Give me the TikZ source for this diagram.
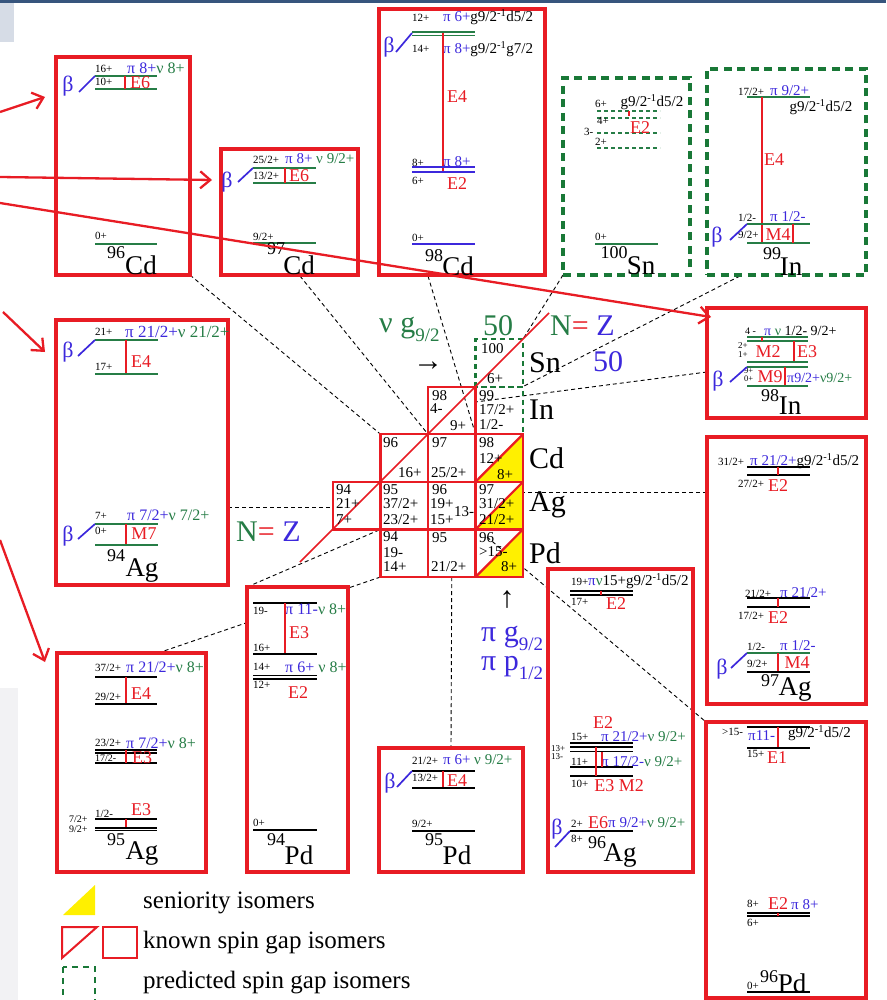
\documentclass[tikz,border=0pt]{standalone}
\usepackage{fontspec}
\setmainfont{Liberation Serif}
\usetikzlibrary{arrows.meta}
\pgfdeclarelayer{bg}
\pgfsetlayers{bg,main}
\definecolor{myred}{RGB}{232,28,36}
\definecolor{mygreen}{RGB}{38,125,70}
\definecolor{myblue}{RGB}{60,40,220}
\definecolor{dgreen}{RGB}{25,120,55}
\definecolor{myyellow}{RGB}{255,240,0}
\definecolor{panelgrey}{RGB}{242,242,244}
\definecolor{tlgrey}{RGB}{214,220,230}
\definecolor{topblue}{RGB}{55,85,125}
\newcommand{\fsz}[1]{\fontsize{#1}{#1}\selectfont}
\newcommand{\gdd}{g9/2\textsuperscript{-1}d5/2}
\newcommand{\gdg}{g9/2\textsuperscript{-1}g7/2}
\newcommand{\Pb}[1]{\textcolor{myblue}{#1}}
\newcommand{\Ng}[1]{\textcolor{mygreen}{#1}}
\newcommand{\subs}[1]{\raisebox{-0.3em}{\fsz{19}#1}}
\tikzset{
 nbox/.style={draw=myred, line width=3.1pt, anchor=north west, inner sep=0pt, outer sep=0pt},
 pbox/.style={draw=dgreen, line width=3.1pt, dash pattern=on 8pt off 5.5pt, anchor=north west, inner sep=0pt, outer sep=0pt},
 cellpos/.style={minimum width=47.5pt, minimum height=47.6pt, inner sep=0pt, outer sep=0pt, anchor=north west},
 cellred/.style={draw=myred, line width=2.2pt},
 cellgrn/.style={draw=dgreen, line width=2.2pt, dash pattern=on 5pt off 4pt},
 glev/.style={draw=mygreen, line width=1.9pt},
 blev/.style={draw=myblue, line width=1.9pt},
 klev/.style={draw=black, line width=1.7pt},
 gdlev/.style={draw=mygreen, line width=1.2pt, dash pattern=on 4pt off 3pt},
 trans/.style={draw=myred, line width=1.4pt},
 betal/.style={draw=myblue, line width=1.7pt},
 spn/.style={inner sep=0pt, anchor=west, font=\fsz{11}},
 cfg/.style={inner sep=0pt, anchor=west, font=\fsz{15}},
 trl/.style={inner sep=0pt, font=\fsz{18}, text=myred},
 bet/.style={inner sep=0pt, font=\fsz{22}, text=myblue},
 mss/.style={inner sep=0pt, font=\fsz{18}},
 elm/.style={inner sep=0pt, font=\fsz{27}},
 celt/.style={inner sep=0pt, anchor=west, font=\fsz{15}},
 chel/.style={inner sep=0pt, anchor=west, font=\fsz{30}},
 bigl/.style={inner sep=0pt, font=\fsz{30}},
 conn/.style={draw=black, line width=0.9pt, dash pattern=on 4pt off 3pt},
 redarr/.style={draw=myred, line width=2.3pt, -{Straight Barb[length=10pt, width=17pt]}},
 legt/.style={inner sep=0pt, anchor=west, font=\fsz{25}},
}
\begin{document}
\begin{tikzpicture}[x=1pt,y=-1pt]
\useasboundingbox (0,0) rectangle (886,1000);
\begin{pgfonlayer}{bg}
\fill[white] (0,0) rectangle (886,1000);
\fill[panelgrey] (0,688) rectangle (18,1000);
\fill[tlgrey] (0,0) rectangle (14,42);
\fill[topblue] (0,0) rectangle (886,3);
\end{pgfonlayer}

% ---------- level-scheme boxes ----------
\node[nbox, minimum width=134, minimum height=218] (bCdA) at (56,57) {};
\node[nbox, minimum width=137, minimum height=126] (bCdB) at (221,149) {};
\node[nbox, minimum width=166, minimum height=266] (bCdC) at (379,9) {};
\node[pbox, minimum width=127, minimum height=197] (bSn) at (563,78) {};
\node[pbox, minimum width=159, minimum height=206] (bInA) at (707,69) {};
\node[nbox, minimum width=172, minimum height=265] (bAgA) at (56,320) {};
\node[nbox, minimum width=159, minimum height=110] (bInB) at (707,308) {};
\node[nbox, minimum width=159, minimum height=267] (bAgC) at (707,437) {};
\node[nbox, minimum width=149, minimum height=219] (bAgB) at (57,653) {};
\node[nbox, fill=white, minimum width=101, minimum height=285] (bPdA) at (247,587) {};
\node[nbox, minimum width=144, minimum height=124] (bPdB) at (379,748) {};
\node[nbox, minimum width=145, minimum height=303] (bAgD) at (548,569) {};
\node[nbox, minimum width=160, minimum height=276] (bPdC) at (706,722) {};

% ---------- chart cells ----------
\node[cellpos] (cSn100) at (475.5,339) {};
\node[cellpos] (cIn98) at (428,386.6) {};
\node[cellpos] (cIn99) at (475.5,386.6) {};
\node[cellpos] (cCd96) at (380.5,434.2) {};
\node[cellpos] (cCd97) at (428,434.2) {};
\node[cellpos] (cCd98) at (475.5,434.2) {};
\node[cellpos] (cAg94) at (333,481.8) {};
\node[cellpos] (cAg95) at (380.5,481.8) {};
\node[cellpos] (cAg96) at (428,481.8) {};
\node[cellpos] (cAg97) at (475.5,481.8) {};
\node[cellpos] (cPd94) at (380.5,529.4) {};
\node[cellpos] (cPd95) at (428,529.4) {};
\node[cellpos] (cPd96) at (475.5,529.4) {};
\foreach \c in {cCd98,cAg97,cPd96}{
  \fill[myyellow] (\c.south west) -- (\c.south east) -- (\c.north east) -- cycle;
}
\foreach \c in {cSn100,cIn99}{
  \draw[cellgrn] (\c.south west) rectangle (\c.north east);
}
\foreach \c in {cIn98,cCd96,cCd97,cCd98,cAg94,cAg95,cAg96,cAg97,cPd94,cPd95,cPd96}{
  \draw[cellred] (\c.south west) rectangle (\c.north east);
}
\foreach \c in {cCd98,cAg97,cPd96}{
  \draw[cellred] (\c.south west) -- (\c.north east);
}
\coordinate (nzLow) at (300,562);
\coordinate (nzHigh) at (549,313);
\draw[myred, line width=1.6pt] (nzLow) -- (nzHigh);

% ---------- dashed connectors (behind) ----------
\coordinate (kCd97) at (300,276);
\coordinate (kCd98) at (428,276);
\coordinate (kIn99) at (740,276);
\coordinate (kIn98) at (707,372);
\coordinate (eIn98) at (475.5,402);
\coordinate (kAg97) at (707,492);
\coordinate (eAg97) at (523,492);
\coordinate (kAg94) at (228,507);
\coordinate (eAg94) at (333,507);
\coordinate (kAg95) at (158,653);
\coordinate (sPd96) at (487,537);
\begin{pgfonlayer}{bg}
\draw[conn] (bCdA.south east) -- (cCd96.north west);
\draw[conn] (kCd97) -- (cCd97.north west);
\draw[conn] (kCd98) -- (cCd98.north west);
\draw[conn] (bSn.south west) -- (cSn100.north east);
\draw[conn] (kIn99) -- (cIn99.north east);
\draw[conn] (kIn98) -- (eIn98);
\draw[conn] (kAg97) -- (eAg97);
\draw[conn] (kAg94) -- (eAg94);
\draw[conn] (kAg95) -- (cPd94.south west);
\draw[conn] (bPdA.north west) -- (cAg95.south west);
\draw[conn] (cPd95.south) -- (bPdB.north);
\draw[conn] (sPd96) -- (bPdC.north west);
\end{pgfonlayer}

% ---------- chart texts ----------
\node[celt] (p1) at (481,349) {100};
\node[celt] (p2) at (487,379) {6+};
\node[celt] (p3) at (432,396) {98};
\node[celt] (p4) at (430,409) {4-};
\node[celt] (p5) at (450,426) {9+};
\node[celt] (p6) at (479,396) {99};
\node[celt] (p7) at (479,410) {17/2+};
\node[celt] (p8) at (479,425) {1/2-};
\node[celt] (p9) at (383,443) {96};
\node[celt] (p10) at (398,473) {16+};
\node[celt] (p11) at (432,443) {97};
\node[celt] (p12) at (431,473) {25/2+};
\node[celt] (p13) at (479,443) {98};
\node[celt] (p14) at (479,459) {12+};
\node[celt] (p15) at (497,475) {8+};
\node[celt] (p16) at (336,490) {94};
\node[celt] (p17) at (336,504) {21+};
\node[celt] (p18) at (336,520) {7+};
\node[celt] (p19) at (383,490) {95};
\node[celt] (p20) at (383,504) {37/2+};
\node[celt] (p21) at (383,520) {23/2+};
\node[celt] (p22) at (432,490) {96};
\node[celt] (p23) at (430,504) {19+};
\node[celt] (p24) at (430,520) {15+};
\node[celt] (p25) at (454,512) {13-};
\node[celt] (p26) at (479,490) {97};
\node[celt] (p27) at (479,504) {31/2+};
\node[celt] (p28) at (479,520) {21/2+};
\node[celt] (p29) at (383,537) {94};
\node[celt] (p30) at (383,552.5) {19-};
\node[celt] (p31) at (383,567) {14+};
\node[celt] (p32) at (432,538) {95};
\node[celt] (p33) at (431,567) {21/2+};
\node[celt] (p34) at (479,538) {96};
\node[celt] (p35) at (479,552) {>15-};
\node[celt] (p36) at (501,567) {8+};
\node[chel] (q1) at (529,363) {Sn};
\node[chel] (q2) at (529,410) {In};
\node[chel] (q3) at (529,458) {Cd};
\node[chel] (q4) at (529,505) {Ag};
\node[chel] (q5) at (529,553) {Pd};
\node[bigl, text=mygreen] (r1) at (498,326) {50};
\node[bigl, anchor=west] (r2) at (550,326) {\Ng{N}\textcolor{myred}{=} \textcolor{myblue}{Z}};
\node[bigl, text=myblue] (r3) at (608,362) {50};
\node[bigl, anchor=west, text=mygreen] (r4) at (379,329) {ν g\subs{9/2}};
\node[bigl] (r5) at (428,366) {→};
\node[bigl] (r6) at (507,600) {↑};
\node[bigl, anchor=west, text=myblue] (r7) at (481,638) {π g\subs{9/2}};
\node[bigl, anchor=west, text=myblue] (r8) at (481,668) {π p\subs{1/2}};
\node[bigl, anchor=west] (r9) at (236,532) {\Ng{N}\textcolor{myred}{=} \textcolor{myblue}{Z}};

% ---------- 96Cd ----------
\node[spn] (a1) at (95,69) {16+};
\node[cfg, font=\fsz{16}] (a2) at (127,68) {\Pb{π 8+}\Ng{ν 8+}};
\draw[glev] (95,76) -- (157,76);
\draw[glev] (95,89) -- (157,89);
\node[spn] (a3) at (95,82) {10+};
\draw[trans] (125,76) -- (125,89);
\node[trl] (a4) at (140,83) {E6};
\node[bet] (a5) at (68,86) {β};
\draw[betal] (79,92) -- (95,76);
\node[spn] (a6) at (95,236) {0+};
\draw[glev] (95,244) -- (157,244);
\node[mss] (a7) at (116,253) {96};
\node[elm] (a8) at (141,265) {Cd};

% ---------- 97Cd ----------
\node[spn] (b1) at (253,160) {25/2+};
\node[cfg] (b2) at (285,159) {\Pb{π 8+} \Ng{ν 9/2+}};
\draw[glev] (253,168) -- (316,168);
\draw[glev] (253,183) -- (316,183);
\node[spn] (b3) at (253,176) {13/2+};
\draw[trans] (285,168) -- (285,183);
\node[trl] (b4) at (299,176) {E6};
\node[bet] (b5) at (227,182) {β};
\draw[betal] (238,182) -- (253,168);
\node[spn] (b6) at (253,237) {9/2+};
\draw[glev] (253,243) -- (316,243);
\node[mss] (b7) at (276,249) {97};
\node[elm] (b8) at (299,265) {Cd};

% ---------- 98Cd ----------
\node[spn] (c1) at (412,18) {12+};
\node[cfg] (c2) at (443,17) {\Pb{π 6+}\gdd};
\draw[glev] (412,32) -- (475,32);
\draw[glev] (412,35.5) -- (475,35.5);
\node[bet] (c3) at (389,47) {β};
\draw[betal] (396,52) -- (412,33);
\node[spn] (c4) at (412,49) {14+};
\node[cfg] (c5) at (443,49) {\Pb{π 8+}\gdg};
\draw[trans] (443,33) -- (443,172);
\node[trl] (c6) at (457,97) {E4};
\node[spn] (c7) at (412,163) {8+};
\node[cfg] (c8) at (443,162) {\Pb{π 8+}};
\draw[blev] (412,167) -- (475,167);
\draw[blev] (412,172) -- (475,172);
\node[spn] (c9) at (412,181) {6+};
\node[trl] (c10) at (457,184) {E2};
\node[spn] (c11) at (412,238) {0+};
\draw[blev] (412,244) -- (475,244);
\node[mss] (c12) at (434,256) {98};
\node[elm] (c13) at (458,266) {Cd};

% ---------- 100Sn ----------
\node[spn] (d1) at (595,104) {6+};
\node[cfg, anchor=center] (d2) at (652,102) {\gdd};
\draw[gdlev] (597,111) -- (660,111);
\draw[gdlev] (597,118) -- (660,118);
\draw[gdlev] (597,133) -- (660,133);
\draw[gdlev] (597,148) -- (660,148);
\node[spn] (d3) at (597,121) {4+};
\node[spn] (d4) at (584,132) {3-};
\node[spn] (d5) at (595,142) {2+};
\draw[trans] (629,111) -- (629,116);
\node[trl] (d6) at (640,128) {E2};
\node[spn] (d7) at (595,237) {0+};
\draw[glev] (595,244) -- (658,244);
\node[mss] (d8) at (614,253) {100};
\node[elm] (d9) at (641,266) {Sn};

% ---------- 99In ----------
\node[spn] (e1) at (738,92) {17/2+};
\node[cfg] (e2) at (770,91) {\Pb{π 9/2+}};
\draw[glev] (747,97) -- (810,97);
\node[cfg, anchor=center] (e3) at (821,107) {\gdd};
\draw[trans] (762,97) -- (762,243);
\node[trl] (e4) at (774,160) {E4};
\node[spn] (e5) at (738,218) {1/2-};
\node[cfg] (e6) at (770,217) {\Pb{π 1/2-}};
\draw[glev] (747,224) -- (810,224);
\draw[glev] (747,243) -- (810,243);
\node[spn] (e7) at (738,235) {9/2+};
\node[trl] (e8) at (778,234.5) {M4};
\draw[trans] (793,224) -- (793,243);
\node[bet] (e9) at (717,237) {β};
\draw[betal] (730,240) -- (747,224);
\node[mss] (e10) at (772,254) {99};
\node[elm] (e11) at (791,267) {In};

% ---------- 94Ag ----------
\node[spn] (f1) at (95,332) {21+};
\node[cfg, font=\fsz{17}] (f2) at (125,332) {\Pb{π 21/2+}\Ng{ν 21/2+}};
\draw[glev] (95,340) -- (158,340);
\node[bet] (f3) at (68,352) {β};
\draw[betal] (78,356) -- (95,340);
\draw[trans] (126,340) -- (126,374);
\node[trl] (f4) at (141,362) {E4};
\node[spn] (f5) at (95,367) {17+};
\draw[glev] (95,374) -- (158,374);
\node[spn] (f6) at (95,516) {7+};
\node[cfg, font=\fsz{16}] (f7) at (127,515) {\Pb{π 7/2+}\Ng{ν 7/2+}};
\draw[glev] (95,524) -- (158,524);
\node[bet] (f8) at (68,536) {β};
\draw[betal] (78,539) -- (95,524);
\node[spn] (f9) at (95,531) {0+};
\draw[trans] (126,524) -- (126,545);
\node[trl] (f10) at (144,534) {M7};
\draw[glev] (95,545) -- (158,545);
\node[mss] (f11) at (116,556) {94};
\node[elm] (f12) at (142,570) {Ag};

% ---------- 98In ----------
\node[spn, font=\fsz{10}] (g1) at (745,331) {4 -};
\node[cfg, font=\fsz{14}] (g2) at (764,331) {\Pb{π} \Ng{ν} 1/2- 9/2+};
\draw[glev] (747,337) -- (808,337);
\draw[glev] (747,341) -- (808,341);
\draw[trans] (762,337) -- (762,341);
\node[spn, font=\fsz{9}] (g3) at (738,346) {2+};
\node[spn, font=\fsz{9}] (g4) at (738,355) {1+};
\node[trl] (g5) at (768,352) {M2};
\draw[trans] (794,341) -- (794,362);
\node[trl] (g6) at (807,352) {E3};
\draw[glev] (747,362) -- (808,362);
\draw[glev] (747,367) -- (808,367);
\node[spn, font=\fsz{8.5}] (g7) at (744,371) {9+};
\node[spn, font=\fsz{8.5}] (g8) at (744,379) {0+};
\node[trl] (g9) at (770,377) {M9};
\draw[trans] (785,367) -- (785,386);
\node[cfg, font=\fsz{14}] (g10) at (787,378) {\Pb{π9/2+}\Ng{ν9/2+}};
\draw[glev] (747,386) -- (808,386);
\node[bet] (g11) at (718,381) {β};
\draw[betal] (730,382) -- (747,367);
\node[mss] (g12) at (770,396) {98};
\node[elm] (g13) at (790,406) {In};

% ---------- 97Ag ----------
\node[spn] (h1) at (718,462) {31/2+};
\node[cfg] (h2) at (750,461) {\Pb{π 21/2+}\gdd};
\draw[klev] (747,467) -- (810,467);
\draw[klev] (747,475) -- (810,475);
\draw[trans] (778,467) -- (778,475);
\node[spn] (h3) at (738,484) {27/2+};
\node[trl] (h4) at (778,486) {E2};
\node[spn] (h5) at (745,594) {21/2+};
\node[cfg] (h6) at (780,593) {\Pb{π 21/2+}};
\draw[klev] (747,598) -- (810,598);
\draw[klev] (747,607) -- (810,607);
\draw[trans] (778,598) -- (778,607);
\node[spn] (h7) at (738,616) {17/2+};
\node[trl] (h8) at (778,618) {E2};
\node[spn] (h9) at (747,647) {1/2-};
\node[cfg] (h10) at (780,646) {\Pb{π 1/2-}};
\draw[glev] (747,653) -- (810,653);
\node[spn] (h11) at (747,664) {9/2+};
\draw[trans] (778,653) -- (778,672);
\node[trl] (h12) at (797,663) {M4};
\draw[klev] (747,672) -- (810,672);
\node[bet] (h13) at (722,669) {β};
\draw[betal] (731,668) -- (747,653);
\node[mss] (h14) at (770,681) {97};
\node[elm] (h15) at (795,689) {Ag};

% ---------- 95Ag ----------
\node[spn] (i1) at (95,668) {37/2+};
\node[cfg, font=\fsz{16}] (i2) at (126,667) {\Pb{π 21/2+}\Ng{ν 8+}};
\draw[klev] (95,677) -- (157,677);
\draw[trans] (126,677) -- (126,704);
\node[trl] (i3) at (141,694) {E4};
\node[spn] (i4) at (95,697) {29/2+};
\draw[klev] (95,704) -- (157,704);
\node[spn] (i5) at (95,743) {23/2+};
\node[cfg, font=\fsz{16}] (i6) at (126,743) {\Pb{π 7/2+}\Ng{ν 8+}};
\draw[klev] (95,750) -- (157,750);
\draw[klev] (95,753) -- (157,753);
\node[spn, font=\fsz{10}] (i7) at (95,758) {17/2-};
\draw[klev] (95,763) -- (157,763);
\draw[trans] (126,750) -- (126,763);
\node[trl] (i8) at (142,758) {E3};
\node[trl] (i9) at (141,810) {E3};
\node[spn] (i10) at (95,814) {1/2-};
\draw[klev] (95,819) -- (157,819);
\node[spn, font=\fsz{10}] (i11) at (69,819) {7/2+};
\draw[trans] (126,819) -- (126,829);
\draw[klev] (95,828) -- (157,828);
\draw[klev] (95,830.5) -- (157,830.5);
\node[spn, font=\fsz{10}] (i12) at (69,829) {9/2+};
\node[mss] (i13) at (116,840) {95};
\node[elm] (i14) at (142,853) {Ag};

% ---------- 94Pd ----------
\draw[klev] (253,603) -- (317,603);
\node[spn] (j1) at (253,611) {19-};
\node[cfg, font=\fsz{16}] (j2) at (285,609) {\Pb{π 11-}\Ng{ν 8+}};
\draw[trans] (285,603) -- (285,654);
\node[trl] (j3) at (299,633) {E3};
\node[spn] (j4) at (253,648) {16+};
\draw[klev] (253,654) -- (317,654);
\node[spn] (j5) at (253,667) {14+};
\node[cfg, font=\fsz{16}] (j6) at (285,667) {\Pb{π 6+} \Ng{ν 8+}};
\draw[klev] (253,675.5) -- (317,675.5);
\draw[klev] (253,679) -- (317,679);
\node[spn] (j7) at (253,685) {12+};
\node[trl] (j8) at (298,693) {E2};
\node[spn] (j9) at (253,823) {0+};
\draw[klev] (253,830) -- (317,830);
\node[mss] (j10) at (276,840) {94};
\node[elm] (j11) at (299,855) {Pd};

% ---------- 95Pd ----------
\node[spn] (k1) at (412,761) {21/2+};
\node[cfg] (k2) at (443,760) {\Pb{π 6+} \Ng{ν 9/2+}};
\draw[klev] (412,771) -- (475,771);
\node[bet] (k3) at (390,783) {β};
\draw[betal] (397,787) -- (412,771);
\node[spn] (k4) at (412,778) {13/2+};
\draw[trans] (443,771) -- (443,788);
\node[trl] (k5) at (457,781) {E4};
\draw[klev] (412,788) -- (475,788);
\node[spn] (k6) at (412,824) {9/2+};
\draw[klev] (412,831) -- (475,831);
\node[mss] (k7) at (434,840) {95};
\node[elm] (k8) at (457,855) {Pd};

% ---------- 96Ag ----------
\node[spn] (m1) at (571,582) {19+};
\node[cfg] (m2) at (588,581) {\Pb{π}\Ng{ν}15+\gdd};
\draw[klev] (570,591) -- (633,591);
\draw[klev] (570,595) -- (633,595);
\draw[trans] (601,591) -- (601,595);
\node[spn] (m3) at (571,602) {17+};
\node[trl] (m4) at (616,604) {E2};
\node[trl] (m5) at (603,723) {E2};
\node[spn] (m6) at (571,737) {15+};
\node[cfg] (m7) at (601,737) {\Pb{π 21/2+}\Ng{ν 9/2+}};
\draw[klev] (570,743) -- (633,743);
\draw[klev] (570,747) -- (633,747);
\draw[klev] (570,751.5) -- (633,751.5);
\node[spn, font=\fsz{9}] (m8) at (551,749) {13+};
\node[spn, font=\fsz{9}] (m9) at (551,757) {13-};
\node[spn] (m10) at (571,762) {11+};
\node[cfg] (m11) at (601,762) {\Pb{π 17/2-}\Ng{ν 9/2+}};
\draw[klev] (570,767) -- (633,767);
\draw[klev] (570,776) -- (633,776);
\draw[trans] (596,747) -- (596,776);
\draw[trans] (602,752) -- (602,767);
\node[spn] (m12) at (571,784) {10+};
\node[trl] (m13) at (619,786) {E3 M2};
\node[bet] (m14) at (557,829) {β};
\draw[betal] (555,847) -- (570,831);
\node[spn] (m15) at (571,824) {2+};
\node[trl] (m16) at (598,823) {E6};
\node[cfg] (m17) at (608,823) {\Pb{π 9/2+}\Ng{ν 9/2+}};
\draw[klev] (570,831) -- (633,831);
\node[spn] (m18) at (571,839) {8+};
\node[mss] (m19) at (597,843) {96};
\node[elm] (m20) at (620,855) {Ag};

% ---------- 96Pd ----------
\draw[klev] (747,727) -- (810,727);
\node[spn] (n1) at (722,732) {>15-};
\node[cfg] (n2) at (748,736) {\Pb{π11-}};
\node[cfg] (n3) at (788,733) {\gdd};
\draw[trans] (778,727) -- (778,748);
\draw[klev] (747,748) -- (810,748);
\node[spn] (n4) at (747,754) {15+};
\node[trl] (n5) at (777,758) {E1};
\node[spn] (n6) at (747,904) {8+};
\node[trl] (n7) at (778,904) {E2};
\node[cfg] (n8) at (791,905) {\Pb{π 8+}};
\draw[klev] (747,913) -- (810,913);
\draw[klev] (747,916) -- (810,916);
\draw[trans] (778,913) -- (778,916);
\node[spn] (n9) at (747,923) {6+};
\node[spn] (n10) at (747,986) {0+};
\draw[klev] (747,992) -- (810,992);
\node[mss] (n11) at (769,977) {96};
\node[elm] (n12) at (792,983) {Pd};

% ---------- legend ----------
\fill[myyellow] (63,915) -- (95,915) -- (95,885) -- cycle;
\node[legt] (s1) at (143,903) {seniority isomers};
\draw[myred, line width=2pt] (62,927) -- (97,927) -- (62,958) -- cycle;
\draw[myred, line width=2pt] (103,927) rectangle (137,958);
\node[legt] (s2) at (143,943) {known spin gap isomers};
\draw[dgreen, line width=2.4pt, dash pattern=on 6pt off 5pt] (63,967) rectangle (95,1003);
\node[legt] (s3) at (143,983) {predicted spin gap isomers};

% ---------- red arrows ----------
\coordinate (aS1) at (0,112); \coordinate (aE1) at (45,97);
\coordinate (aS2) at (0,177); \coordinate (aE2) at (212,180);
\coordinate (aS3) at (0,203); \coordinate (aE3) at (711,317);
\coordinate (aS4) at (3,312); \coordinate (aE4) at (45,352);
\coordinate (aS5) at (0,540); \coordinate (aE5) at (45,662);
\draw[redarr] (aS1) -- (aE1);
\draw[redarr] (aS2) -- (aE2);
\draw[redarr] (aS3) -- (aE3);
\draw[redarr] (aS4) -- (aE4);
\draw[redarr] (aS5) -- (aE5);
\end{tikzpicture}
\end{document}
